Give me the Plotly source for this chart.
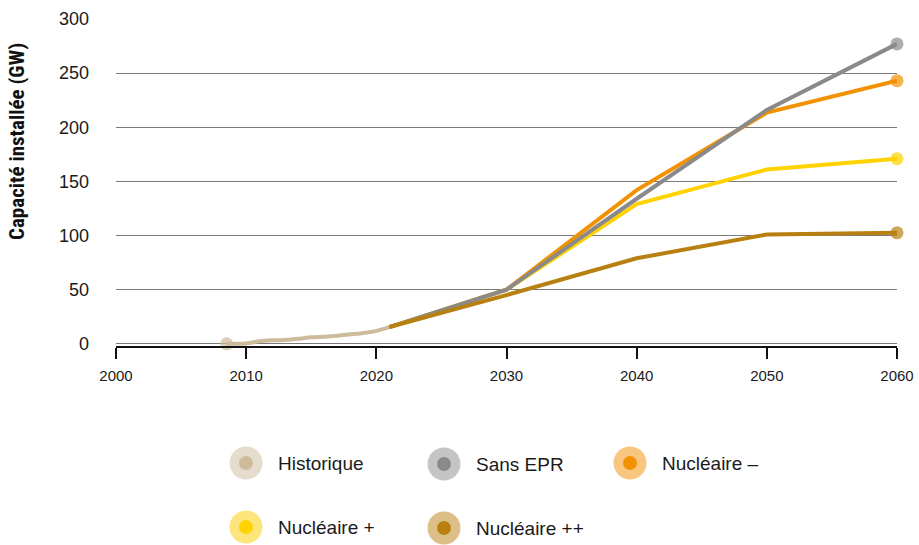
import plotly.graph_objects as go

# ---- data ----
hist_years = [2008.5, 2010, 2011, 2012, 2013, 2014, 2015, 2016, 2017, 2018, 2019, 2020, 2021]
hist_values = [0, 0.3, 2.3, 3.2, 3.6, 4.6, 6.0, 6.5, 7.4, 8.8, 10.1, 12.0, 15.5]

scen_years = [2021, 2030, 2040, 2050, 2060]
sans_epr = [15.5, 50, 134, 216, 277]
nucl_moins = [15.5, 50, 142, 213.5, 243]
nucl_plus = [15.5, 50, 129, 161, 171]
nucl_pp = [15.5, 45, 79, 101, 102.5]

series_names = ["Historique", "Sans EPR", "Nucléaire –", "Nucléaire +", "Nucléaire ++"]
colors = {"Historique": "#cdbb9c", "Sans EPR": "#8a8a8a", "Nucléaire –": "#f39200",
          "Nucléaire +": "#ffd200", "Nucléaire ++": "#b88010"}
ring_colors = {"Historique": "#e5dccd", "Sans EPR": "#c5c5c5", "Nucléaire –": "#f8c67e",
               "Nucléaire +": "#fde57c", "Nucléaire ++": "#dbbf86"}

x_ticks = [2000, 2010, 2020, 2030, 2040, 2050, 2060]
y_ticks = [0, 50, 100, 150, 200, 250, 300]

FONT = "Liberation Sans, Arial, Helvetica, sans-serif"

fig = go.Figure()

# historical line
fig.add_trace(go.Scatter(
    x=hist_years, y=hist_values, mode="lines+markers", name="Historique",
    line=dict(color=colors["Historique"], width=4, shape="spline", smoothing=0.6),
    marker=dict(color=colors["Historique"], size=[13] + [0] * (len(hist_years) - 1), line=dict(width=0)),
    cliponaxis=False, showlegend=False))

def scen(vals, name):
    fig.add_trace(go.Scatter(
        x=scen_years, y=vals, mode="lines+markers", name=name,
        line=dict(color=colors[name], width=4),
        marker=dict(color=colors[name], size=[0] * (len(scen_years) - 1) + [13], line=dict(width=0)),
        cliponaxis=False, showlegend=False))

scen(nucl_plus, "Nucléaire +")
scen(nucl_moins, "Nucléaire –")
scen(sans_epr, "Sans EPR")
scen(nucl_pp, "Nucléaire ++")

# ---- geometry (page body margin removed by post_script) ----
W, H = 919, 545
L, T = 116, 19
R = W - 897
B = H - 346
pw, ph = W - L - R, H - T - B

def px2paper(sx, sy):
    return (sx - L) / pw, (H - B - sy) / ph

legend_items = [
    ("Historique", 246, 463),
    ("Sans EPR", 444, 464),
    ("Nucléaire –", 630, 463),
    ("Nucléaire +", 246, 527),
    ("Nucléaire ++", 444, 528),
]
shapes = []
annotations = []
for name, cx, cy in legend_items:
    xp, yp = px2paper(cx, cy)
    for rad, col in ((16.5, ring_colors[name]), (7, colors[name])):
        shapes.append(dict(type="circle", xref="paper", yref="paper",
                           xsizemode="pixel", ysizemode="pixel",
                           xanchor=xp, yanchor=yp, x0=-rad, x1=rad, y0=-rad, y1=rad,
                           fillcolor=col, line=dict(width=0), layer="above"))
    tx, ty = px2paper(cx + 30, cy)
    annotations.append(dict(text=name, xref="paper", yref="paper", x=tx, y=ty,
                            xanchor="left", yanchor="middle", showarrow=False,
                            font=dict(family=FONT, size=19, color="#1a1a1a")))

# y-axis title
tx, ty = px2paper(17, 142)
annotations.append(dict(text="<b>Capacité installée (GW)</b>", xref="paper", yref="paper",
                        x=tx, y=ty, xanchor="center", yanchor="middle", textangle=-90,
                        showarrow=False,
                        font=dict(family="Liberation Sans Narrow, Roboto Condensed, Arial Narrow, Liberation Sans, Arial",
                                  size=21, color="#111")))

fig.update_layout(
    width=W, height=H,
    margin=dict(l=L, r=R, t=T, b=B, pad=0, autoexpand=False),
    paper_bgcolor="white", plot_bgcolor="white",
    shapes=shapes, annotations=annotations,
    font=dict(family=FONT, color="#1a1a1a"),
    showlegend=False,
    xaxis=dict(range=[2000, 2060], tickvals=x_ticks, ticktext=[str(v) for v in x_ticks],
               showgrid=False, zeroline=False, showline=True, linecolor="#111", linewidth=2,
               ticks="outside", ticklen=11, tickwidth=2, tickcolor="#111", automargin=False,
               ticklabelstandoff=4,
               tickfont=dict(family=FONT, size=15, color="#1a1a1a")),
    yaxis=dict(range=[-2, 300], tickvals=y_ticks, ticktext=[str(v) for v in y_ticks],
               showgrid=True, gridcolor="#7a7a7a", gridwidth=1, zeroline=False,
               showline=False, ticks="", ticklabelstandoff=26, automargin=False,
               tickfont=dict(family=FONT, size=18, color="#1a1a1a")),
)

fig.write_html("out.html", config={"displayModeBar": False},
               post_script="document.body.style.margin='0';document.body.style.overflow='hidden';")
